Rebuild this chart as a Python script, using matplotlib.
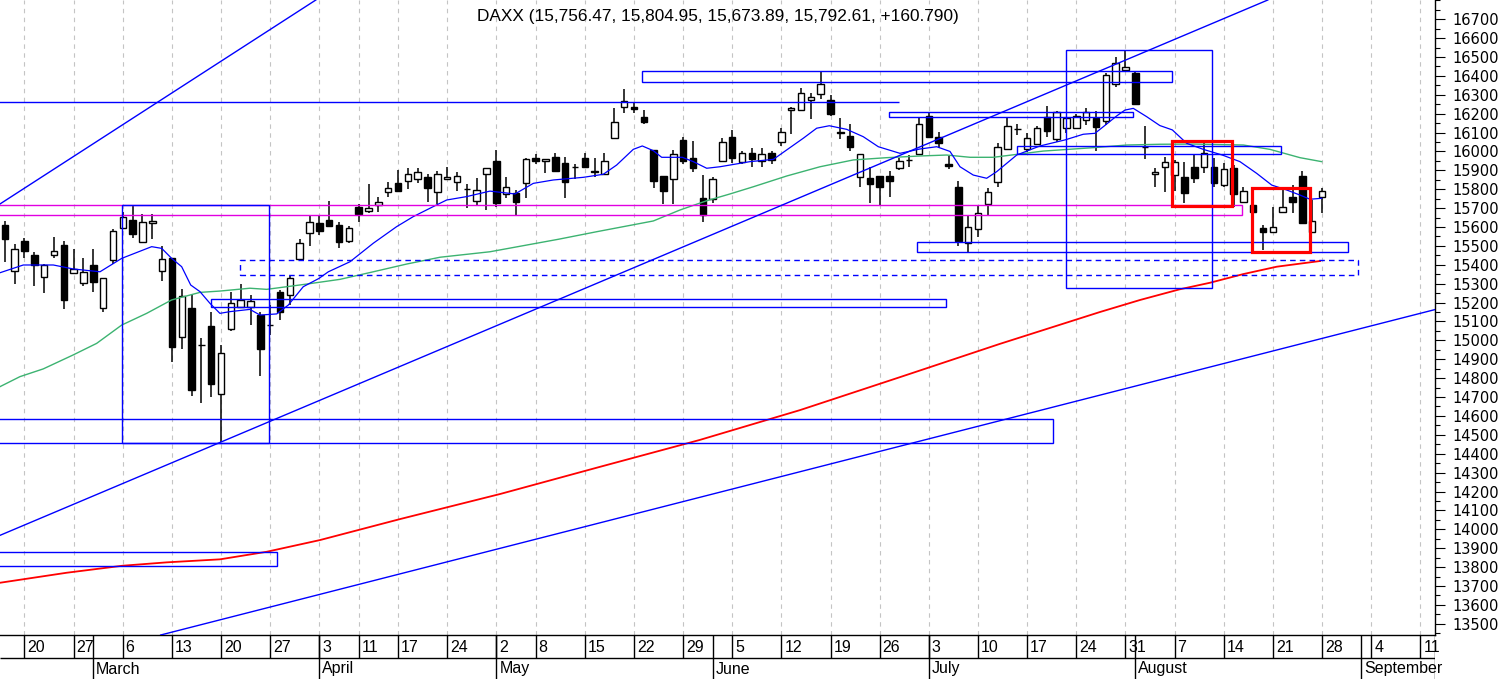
import numpy as np
import pandas as pd
import matplotlib
matplotlib.use("Agg")
import matplotlib.pyplot as plt
from matplotlib.patches import Rectangle
from matplotlib.ticker import MultipleLocator

# trading days (Xetra holidays removed), candles run Feb 16 .. Aug 28 2023
holidays = ["2023-04-07", "2023-04-10", "2023-05-01"]
days = pd.bdate_range("2023-02-16", "2023-09-15", freq="C", holidays=holidays)

opens = [15611, 15369, 15526, 15452, 15337, 15450, 15505, 15355, 15302, 15399,
         15173, 15425, 15593, 15637, 15522, 15620, 15369, 15436, 15016, 15173,
         14974, 15076, 14715, 15059, 15175, 15178, 15134, 15080, 15254, 15240,
         15429, 15567, 15620, 15637, 15609, 15526, 15706, 15685, 15714, 15787,
         15833, 15844, 15853, 15863, 15784, 15854, 15837, 15801, 15739, 15881,
         15949, 15775, 15782, 15835, 15964, 15948, 15969, 15937, 15916, 15964,
         15896, 15881, 16070, 16234, 16234, 16181, 16008, 15870, 15853, 16061,
         15964, 15755, 15747, 15949, 16075, 15943, 15993, 15949, 15990, 16052,
         16219, 16219, 16272, 16304, 16272, 16105, 16082, 15866, 15858, 15870,
         15870, 15914, 15955, 15985, 16188, 16078, 15932, 15810, 15517, 15588,
         15720, 15840, 16011, 16117, 16011, 16038, 16184, 16064, 16122, 16122,
         16166, 16175, 16161, 16357, 16431, 16417, 16025, 15881, 15916, 15875,
         15863, 15916, 15919, 15919, 15822, 15911, 15734, 15714, 15593, 15572,
         15681, 15757, 15870, 15575, 15756.47]
highs = [15632, 15510, 15543, 15469, 15404, 15546, 15526, 15484, 15438, 15484,
         15329, 15588, 15681, 15709, 15669, 15669, 15500, 15436, 15272, 15244,
         15014, 15150, 14976, 15254, 15298, 15240, 15150, 15187, 15267, 15341,
         15535, 15658, 15658, 15738, 15628, 15605, 15722, 15826, 15757, 15840,
         15902, 15914, 15911, 15879, 15897, 15916, 15890, 15826, 15858, 15914,
         16008, 15863, 15796, 15964, 15985, 15958, 15993, 15969, 15932, 15990,
         15964, 15990, 16228, 16329, 16260, 16219, 16008, 15870, 16008, 16078,
         16055, 15875, 15863, 16070, 16114, 16004, 16017, 16017, 16002, 16126,
         16234, 16334, 16308, 16420, 16299, 16179, 16144, 15986, 15916, 15870,
         15896, 15964, 15981, 16179, 16202, 16105, 15976, 15844, 15658, 15709,
         15805, 16046, 16179, 16144, 16096, 16135, 16241, 16214, 16181, 16198,
         16228, 16214, 16414, 16498, 16537, 16427, 16135, 15914, 15972, 15955,
         15946, 15981, 16043, 15964, 15937, 15928, 15813, 15714, 15611, 15706,
         15796, 15822, 15898, 15743, 15804.95]
lows = [15416, 15298, 15434, 15288, 15252, 15438, 15166, 15355, 15288, 15258,
        15152, 15404, 15593, 15543, 15522, 15538, 15316, 14885, 14954, 14707,
        14670, 14699, 14461, 15051, 15170, 15081, 14813, 15028, 15108, 15187,
        15429, 15501, 15558, 15607, 15487, 15517, 15628, 15673, 15679, 15760,
        15792, 15800, 15831, 15731, 15722, 15854, 15792, 15699, 15711, 15690,
        15707, 15752, 15664, 15755, 15932, 15884, 15898, 15755, 15854, 15919,
        15866, 15881, 16070, 16205, 16202, 16145, 15808, 15722, 15722, 15932,
        15890, 15628, 15729, 15949, 15937, 15932, 15916, 15916, 15932, 16029,
        16091, 16219, 16170, 16278, 16188, 16066, 16004, 15813, 15729, 15717,
        15760, 15902, 15919, 15985, 16078, 16020, 15905, 15501, 15469, 15549,
        15658, 15813, 16011, 16087, 15999, 16038, 16078, 16052, 16099, 16122,
        16140, 16004, 16140, 16339, 16431, 16250, 15958, 15810, 15787, 15791,
        15727, 15831, 15884, 15813, 15813, 15704, 15729, 15681, 15476, 15572,
        15681, 15673, 15620, 15575, 15673.89]
closes = [15537, 15482, 15473, 15399, 15399, 15471, 15214, 15379, 15362, 15311,
          15329, 15579, 15655, 15561, 15628, 15632, 15429, 14966, 15235, 14737,
          14974, 14769, 14932, 15196, 15214, 15210, 14954, 15080, 15149, 15329,
          15517, 15625, 15580, 15607, 15522, 15593, 15669, 15699, 15731, 15805,
          15792, 15879, 15893, 15805, 15879, 15866, 15872, 15801, 15796, 15914,
          15727, 15813, 15734, 15958, 15951, 15958, 15898, 15840, 15916, 15919,
          15890, 15949, 16157, 16269, 16223, 16157, 15845, 15792, 15985, 15951,
          15914, 15664, 15854, 16048, 15967, 15993, 15960, 15985, 15955, 16101,
          16228, 16311, 16287, 16357, 16198, 16099, 16025, 15986, 15828, 15813,
          15845, 15949, 15955, 16144, 16078, 16043, 15925, 15528, 15602, 15673,
          15787, 16022, 16136, 16117, 16070, 16122, 16110, 16210, 16175, 16188,
          16210, 16131, 16405, 16467, 16445, 16250, 16025, 15893, 15946, 15946,
          15778, 15858, 15993, 15831, 15905, 15775, 15791, 15681, 15575, 15602,
          15707, 15734, 15620, 15632, 15792.61]

# moving averages: trading-day index (Feb 16 = 0), price
ma_fast_x = [-0.49, 1.88, 4.93, 6.96, 9.68, 11.89, 14.94, 15.96, 16.97, 17.99,
             18.91, 19.85, 20.87, 21.88, 22.89, 24.93, 25.96, 27.66, 28.84, 30.36,
             31.96, 32.91, 35.11, 37.48, 39.86, 41.55, 43.93, 44.95, 46.98, 49.35,
             51.9, 53.76, 55.8, 58.85, 60.88, 62.24, 63.93, 64.85, 65.97, 66.82,
             68.92, 70.04, 71.4, 72.75, 75.8, 78.18, 79.54, 81.23, 82.59, 83.87,
             85.64, 87.33, 88.86, 91.06, 93.1, 94.8, 96.15, 97.17, 98.52, 99.88,
             100.9, 102.94, 105.3, 107.85, 109.71, 110.9, 111.75, 113.11, 113.95, 114.8,
             116.16, 117.5, 118.77, 120.23, 121.92, 123.85, 125.65, 127.35, 128.88, 130.4,
             131.76, 132.77, 133.96]
ma_fast_y = [15358, 15399, 15399, 15378, 15363, 15434, 15496, 15487, 15434, 15390,
             15293, 15258, 15196, 15143, 15152, 15164, 15134, 15140, 15187, 15284,
             15328, 15363, 15416, 15514, 15602, 15655, 15717, 15743, 15761, 15790,
             15775, 15831, 15849, 15863, 15879, 15928, 16011, 16029, 16004, 15969,
             15969, 15946, 15911, 15919, 15946, 15958, 16008, 16070, 16123, 16136,
             16117, 16078, 16025, 15990, 16013, 16025, 16000, 15919, 15875, 15858,
             15893, 15981, 16029, 16061, 16091, 16096, 16131, 16188, 16219, 16228,
             16184, 16137, 16114, 16043, 16011, 15981, 15946, 15884, 15822, 15796,
             15769, 15747, 15752]

ma_mid_x = [-0.49, 1.54, 3.91, 6.96, 9.34, 11.89, 14.43, 16.97, 19.85, 21.88,
            24.93, 26.64, 30.71, 34.1, 37.48, 40.88, 44.27, 49.35, 56.3, 60.2,
            65.97, 68.68, 71.4, 73.77, 76.14, 79.54, 82.93, 86.31, 89.71, 93.1,
            95.8, 98.2, 100.56, 105.64, 110.73, 114.13, 117.5, 120.9, 126.0, 128.7,
            131.76, 133.96]
ma_mid_y = [14755, 14808, 14849, 14923, 14984, 15081, 15143, 15214, 15254, 15261,
            15276, 15270, 15298, 15323, 15363, 15404, 15440, 15469, 15535, 15575,
            15632, 15690, 15739, 15775, 15813, 15870, 15919, 15955, 15967, 15976,
            15981, 15969, 15969, 16002, 16020, 16034, 16038, 16039, 16034, 16011,
            15967, 15946]

ma_slow_x = [-0.49, 6.29, 11.95, 16.47, 21.89, 26.64, 32.06, 40.2, 50.4, 60.5,
             70.7, 80.9, 91.1, 101.2, 111.4, 115.5, 119.5, 122.6, 126.0, 129.4,
             133.8]
ma_slow_y = [13717, 13770, 13807, 13825, 13841, 13881, 13943, 14054, 14187, 14330,
             14473, 14631, 14806, 14981, 15150, 15214, 15270, 15305, 15351, 15390,
             15420]

# drawn objects: boxes (start, end, low, high) and trend lines (two points each)
blue_boxes = [(64.85, 118.70, 16366, 16428), (107.95, 122.77, 15279, 16537),
              (-1.0, 106.63, 14459, 14582), (-1.0, 27.72, 13806, 13881),
              (20.94, 95.74, 15175, 15217), (89.98, 114.8, 16181, 16210),
              (102.94, 129.79, 15985, 16029), (92.82, 136.67, 15466, 15519),
              (11.95, 26.9, 14459, 15714)]
dashed_boxes = [(23.92, 137.69, 15344, 15425)]
pink_boxes = [(-1.0, 125.82, 15663, 15716)]
red_boxes = [(118.77, 124.81, 15713, 16055), (126.84, 132.77, 15466, 15805)]
trend_lines = [((-0.49, 15722), (31.65, 16802)),
               ((-0.49, 13968), (128.5, 16802)),
               ((16.12, 13444), (145.49, 15163))]
level_line = (16260, -1.0, 90.96)

o = np.array(opens)
h = np.array(highs)
l = np.array(lows)
c = np.array(closes)
x = np.arange(len(c))
pos = np.arange(len(days))

week_start = [i for i in range(1, len(days)) if days[i].isocalendar()[1] != days[i - 1].isocalendar()[1]]
month_start = [i for i in range(1, len(days)) if days[i].month != days[i - 1].month]

W, H = 1506, 679
fig = plt.figure(figsize=(W / 100, H / 100), dpi=100)
ax = fig.add_axes([0, 44 / H, 1435 / W, 635 / H])
x_lo, x_hi = -0.49, 145.49
y_lo, y_hi = 13440.5, 16801.6
ax.set_xlim(x_lo, x_hi)
ax.set_ylim(y_lo, y_hi)

ax.vlines(week_start, y_lo, y_hi, colors="#c4c4c4", linestyles=(0, (4, 4)), lw=0.8, zorder=0)

# candles
ax.vlines(x, l, h, color="black", lw=1.1, zorder=2)
ax.bar(x, np.abs(c - o), bottom=np.minimum(o, c), width=0.66,
       color=np.where(c >= o, "white", "black"), edgecolor="black", linewidth=1.0, zorder=3)

ax.plot(ma_slow_x, ma_slow_y, color="#ff0000", lw=1.3, zorder=4)
ax.plot(ma_mid_x, ma_mid_y, color="#3cb371", lw=1.0, zorder=4)
ax.plot(ma_fast_x, ma_fast_y, color="#0000ff", lw=0.9, zorder=4)

for x0, x1, p0, p1 in pink_boxes:
    ax.add_patch(Rectangle((x0, p0), x1 - x0, p1 - p0, fill=False, ec="#e100e1", lw=1.0, zorder=5))
for x0, x1, p0, p1 in blue_boxes:
    ax.add_patch(Rectangle((x0, p0), x1 - x0, p1 - p0, fill=False, ec="#0000ff", lw=1.0, zorder=5))
for x0, x1, p0, p1 in dashed_boxes:
    ax.add_patch(Rectangle((x0, p0), x1 - x0, p1 - p0, fill=False, ec="#0000ff", lw=1.0,
                           ls=(0, (4, 3)), zorder=5))
for x0, x1, p0, p1 in red_boxes:
    ax.add_patch(Rectangle((x0, p0), x1 - x0, p1 - p0, fill=False, ec="#ff0000", lw=2.3, zorder=6))
for p_a, p_b in trend_lines:
    ax.axline(p_a, p_b, color="#0000ff", lw=1.0, zorder=5)
ax.hlines(level_line[0], level_line[1], level_line[2], color="#0000ff", lw=1.0, zorder=5)

# price axis on the right
for side in ["left", "top"]:
    ax.spines[side].set_visible(False)
for side in ["right", "bottom"]:
    ax.spines[side].set_color("black")
    ax.spines[side].set_linewidth(1.0)
ax.set_xticks([])
ax.yaxis.tick_right()
ax.set_yticks(np.arange(13500, 16701, 100))
ax.yaxis.set_minor_locator(MultipleLocator(50))
ax.tick_params(axis="y", which="major", length=7, width=0.8, labelsize=10.5, pad=5.5, colors="black")
ax.tick_params(axis="y", which="minor", length=3.5, width=0.8)

# date band under the chart
ax2 = fig.add_axes([0, 0, 1435 / W, 44 / H])
ax2.set_xlim(x_lo, x_hi)
ax2.set_ylim(44, 0)
ax2.axis("off")
ax2.hlines(23, x_lo, x_hi, color="black", lw=1.0)
ax2.vlines(x_hi - 0.02, 0, 44, color="black", lw=1.0)
date_font = ["Liberation Sans", "DejaVu Sans"]
for i in week_start:
    if pos[i] > x_hi:
        continue
    ax2.vlines(pos[i], 0, 23, color="black", lw=1.0)
    t = ax2.text(pos[i] + 0.3, 12, str(days[i].day), ha="left", va="center",
                 fontsize=11.5, family=date_font)
    t.set_clip_path(ax2.patch)
for i in month_start:
    if pos[i] > x_hi:
        continue
    ax2.vlines(pos[i], 0, 44, color="black", lw=1.0)
    t = ax2.text(pos[i] + 0.3, 34, days[i].strftime("%B"), ha="left", va="center",
                 fontsize=11.5, family=date_font)
    t.set_clip_path(ax2.patch)

title = (f"DAXX ({opens[-1]:,.2f}, {highs[-1]:,.2f}, {lows[-1]:,.2f}, "
         f"{closes[-1]:,.2f}, +160.790)")
fig.text(718 / W, 1 - 16 / H, title, ha="center", va="center", fontsize=12.4,
         family=["Liberation Sans", "DejaVu Sans"])

fig.savefig("out.png", dpi=100)
